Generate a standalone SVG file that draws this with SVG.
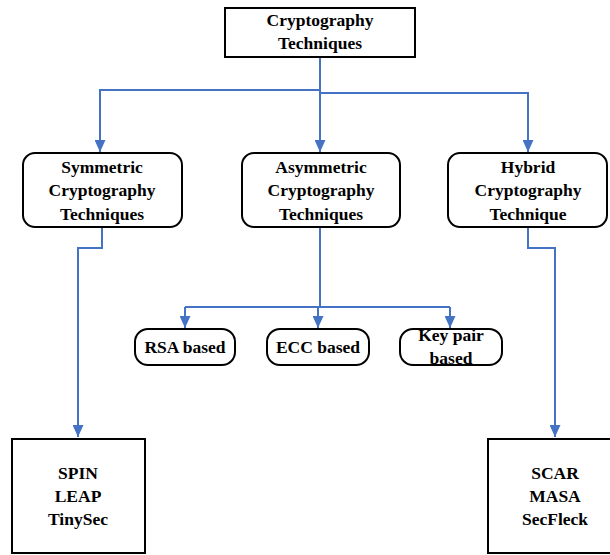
<svg xmlns="http://www.w3.org/2000/svg" width="610" height="555" viewBox="0 0 610 555">
<defs>
<marker id="arr" viewBox="0 0 10 12" refX="10" refY="6" markerWidth="12" markerHeight="11" markerUnits="userSpaceOnUse" orient="auto" preserveAspectRatio="none">
<path d="M0,0 L10,6 L0,12 z" fill="#4472C4"/>
</marker>
</defs>
<style>
.box{fill:#fff;stroke:#000;stroke-width:2}
.c{fill:none;stroke:#4472C4;stroke-width:2}
</style>
<rect width="610" height="555" fill="#fff"/>
<g id="connectors">
<path class="c" d="M320,57 V152" marker-end="url(#arr)"/>
<path class="c" d="M320,90 H100 V152" marker-end="url(#arr)"/>
<path class="c" d="M320,93 H528 V152" marker-end="url(#arr)"/>
<path class="c" d="M102,227 V248 H78 V437" marker-end="url(#arr)"/>
<path class="c" d="M528,227 V248 H555 V437" marker-end="url(#arr)"/>
<path class="c" d="M320,227 V307"/>
<path class="c" d="M185,307 H450"/>
<path class="c" d="M185,307 V328" marker-end="url(#arr)"/>
<path class="c" d="M318,307 V328" marker-end="url(#arr)"/>
<path class="c" d="M450,307 V328" marker-end="url(#arr)"/>
</g>
<g id="root">
<rect class="box" x="225" y="8" width="190" height="49"/>
<text font-family="Liberation Serif" font-weight="bold" font-size="17.5" text-anchor="middle" x="320" y="26">Cryptography</text>
<text font-family="Liberation Serif" font-weight="bold" font-size="17.5" text-anchor="middle" x="320" y="49">Techniques</text>
</g>
<g id="symmetric">
<rect class="box" x="23" y="153" width="159" height="74" rx="12"/>
<text font-family="Liberation Serif" font-weight="bold" font-size="17.5" text-anchor="middle" x="102" y="173">Symmetric</text>
<text font-family="Liberation Serif" font-weight="bold" font-size="17.5" text-anchor="middle" x="102" y="196">Cryptography</text>
<text font-family="Liberation Serif" font-weight="bold" font-size="17.5" text-anchor="middle" x="102" y="220">Techniques</text>
</g>
<g id="asymmetric">
<rect class="box" x="242" y="153" width="158" height="74" rx="12"/>
<text font-family="Liberation Serif" font-weight="bold" font-size="17.5" text-anchor="middle" x="321" y="173">Asymmetric</text>
<text font-family="Liberation Serif" font-weight="bold" font-size="17.5" text-anchor="middle" x="321" y="196">Cryptography</text>
<text font-family="Liberation Serif" font-weight="bold" font-size="17.5" text-anchor="middle" x="321" y="220">Techniques</text>
</g>
<g id="hybrid">
<rect class="box" x="448" y="153" width="159" height="74" rx="12"/>
<text font-family="Liberation Serif" font-weight="bold" font-size="17.5" text-anchor="middle" x="528" y="173">Hybrid</text>
<text font-family="Liberation Serif" font-weight="bold" font-size="17.5" text-anchor="middle" x="528" y="196">Cryptography</text>
<text font-family="Liberation Serif" font-weight="bold" font-size="17.5" text-anchor="middle" x="528" y="220">Technique</text>
</g>
<g id="rsa">
<rect class="box" x="135" y="329" width="100" height="36" rx="13"/>
<text font-family="Liberation Serif" font-weight="bold" font-size="17.5" text-anchor="middle" x="185" y="353">RSA based</text>
</g>
<g id="ecc">
<rect class="box" x="267" y="329" width="102" height="36" rx="13"/>
<text font-family="Liberation Serif" font-weight="bold" font-size="17.5" text-anchor="middle" x="318" y="353">ECC based</text>
</g>
<g id="keypair">
<rect class="box" x="400" y="329" width="102" height="36" rx="13"/>
<text font-family="Liberation Serif" font-weight="bold" font-size="17.5" text-anchor="middle" x="451" y="341">Key pair</text>
<text font-family="Liberation Serif" font-weight="bold" font-size="17.5" text-anchor="middle" x="451" y="364">based</text>
</g>
<g id="symlist">
<rect class="box" x="12" y="439" width="133" height="114"/>
<text font-family="Liberation Serif" font-weight="bold" font-size="17.5" text-anchor="middle" x="78" y="479">SPIN</text>
<text font-family="Liberation Serif" font-weight="bold" font-size="17.5" text-anchor="middle" x="78" y="502">LEAP</text>
<text font-family="Liberation Serif" font-weight="bold" font-size="17.5" text-anchor="middle" x="78" y="525">TinySec</text>
</g>
<g id="hyblist">
<rect class="box" x="488" y="439" width="133" height="114"/>
<text font-family="Liberation Serif" font-weight="bold" font-size="17.5" text-anchor="middle" x="555" y="479">SCAR</text>
<text font-family="Liberation Serif" font-weight="bold" font-size="17.5" text-anchor="middle" x="555" y="502">MASA</text>
<text font-family="Liberation Serif" font-weight="bold" font-size="17.5" text-anchor="middle" x="555" y="525">SecFleck</text>
</g>
</svg>
